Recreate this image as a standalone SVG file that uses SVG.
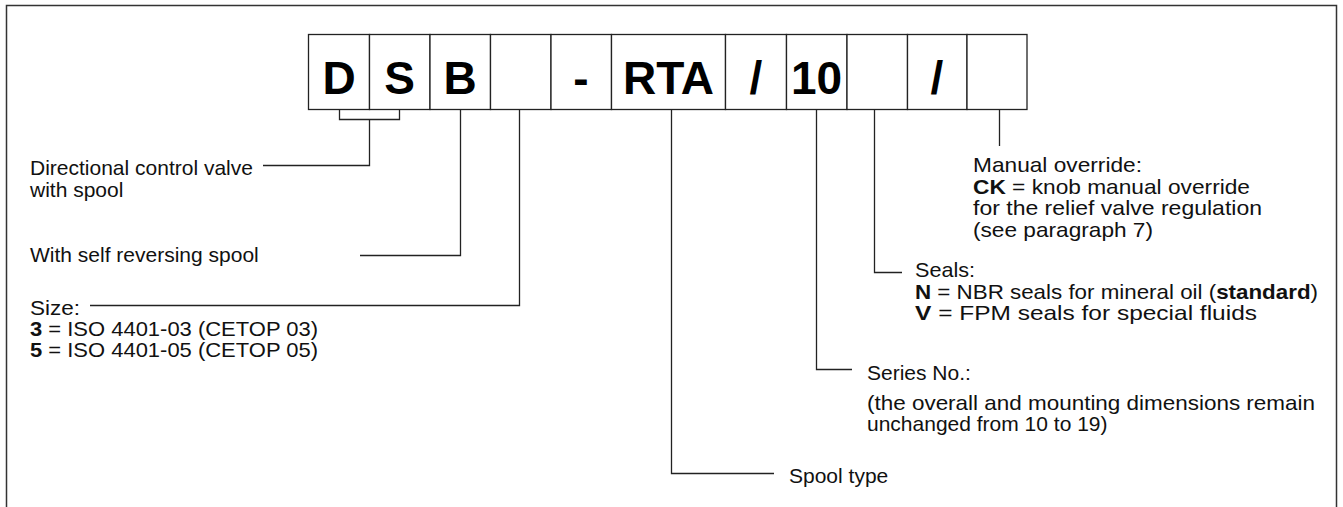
<svg xmlns="http://www.w3.org/2000/svg" width="1343" height="507" viewBox="0 0 1343 507">
<style>
.frame{fill:none;stroke:#333;stroke-width:1.5}
.box{fill:#fff;stroke:#222;stroke-width:1.3}
.big{font-family:"Liberation Sans",Arial,sans-serif;font-weight:bold;font-size:46px;fill:#000;text-anchor:middle}
.t{font-family:"Liberation Sans",Arial,sans-serif;font-size:21px;fill:#111}
.b{font-weight:bold}
.c{fill:none;stroke:#222;stroke-width:1.3}
</style>
<rect width="1343" height="507" fill="#fff"/>
<path class="frame" d="M6.5,512 V5.5 H1336.5 V512"/>
<g id="code">
<g id="box-D"><rect class="box" x="308.5" y="34.5" width="61" height="75"/><text class="big" x="339" y="93.5">D</text></g>
<g id="box-S"><rect class="box" x="369.5" y="34.5" width="60.5" height="75"/><text class="big" x="399.5" y="93.5">S</text></g>
<g id="box-B"><rect class="box" x="430" y="34.5" width="60.5" height="75"/><text class="big" x="460" y="93.5">B</text></g>
<g id="box-size"><rect class="box" x="490.5" y="34.5" width="60.5" height="75"/></g>
<g id="box-dash"><rect class="box" x="551" y="34.5" width="60.5" height="75"/><text class="big" x="581" y="93.5">-</text></g>
<g id="box-RTA"><rect class="box" x="611.5" y="34.5" width="114" height="75"/><text class="big" x="668.5" y="93.5">RTA</text></g>
<g id="box-slash1"><rect class="box" x="725.5" y="34.5" width="61" height="75"/><text class="big" x="756" y="93.5">/</text></g>
<g id="box-10"><rect class="box" x="786.5" y="34.5" width="60.5" height="75"/><text class="big" x="816.5" y="93.5">10</text></g>
<g id="box-seals"><rect class="box" x="847" y="34.5" width="60.5" height="75"/></g>
<g id="box-slash2"><rect class="box" x="907.5" y="34.5" width="59.5" height="75"/><text class="big" x="937" y="93.5">/</text></g>
<g id="box-override"><rect class="box" x="967" y="34.5" width="60" height="75"/></g>
</g>
<g id="connectors">
<path class="c" d="M339.5,109.5 V119.5 H399.5 V109.5"/>
<path class="c" d="M369.5,119.5 V165.5 H263"/>
<path class="c" d="M460.5,109.5 V255.5 H360"/>
<path class="c" d="M519.5,109.5 V305.5 H90"/>
<path class="c" d="M671.5,109.5 V473.5 H774"/>
<path class="c" d="M816.5,109.5 V369.5 H852"/>
<path class="c" d="M874.5,109.5 V272.5 H902"/>
<path class="c" d="M999.5,109.5 V146"/>
</g>
<g id="label-dcv"><text class="t" x="30" y="175">Directional control valve</text><text class="t" x="30" y="197">with spool</text></g>
<g id="label-self"><text class="t" x="30" y="262">With self reversing spool</text></g>
<g id="label-size"><text class="t" x="30" y="314.5" textLength="50" lengthAdjust="spacingAndGlyphs">Size:</text><text class="t" x="30" y="335.5" textLength="288" lengthAdjust="spacingAndGlyphs"><tspan class="b">3</tspan> = ISO 4401-03 (CETOP 03)</text><text class="t" x="30" y="357" textLength="288" lengthAdjust="spacingAndGlyphs"><tspan class="b">5</tspan> = ISO 4401-05 (CETOP 05)</text></g>
<g id="label-override"><text class="t" x="973" y="172" textLength="169" lengthAdjust="spacingAndGlyphs">Manual override:</text><text class="t" x="973" y="193.5" textLength="277" lengthAdjust="spacingAndGlyphs"><tspan class="b">CK</tspan> = knob manual override</text><text class="t" x="973" y="215" textLength="289" lengthAdjust="spacingAndGlyphs">for the relief valve regulation</text><text class="t" x="973" y="236.5" textLength="180" lengthAdjust="spacingAndGlyphs">(see paragraph 7)</text></g>
<g id="label-seals"><text class="t" x="915" y="277" textLength="60" lengthAdjust="spacingAndGlyphs">Seals:</text><text class="t" x="915" y="298.5" textLength="403" lengthAdjust="spacingAndGlyphs"><tspan class="b">N</tspan> = NBR seals for mineral oil (<tspan class="b">standard</tspan>)</text><text class="t" x="915" y="320" textLength="342" lengthAdjust="spacingAndGlyphs"><tspan class="b">V</tspan> = FPM seals for special fluids</text></g>
<g id="label-series"><text class="t" x="867" y="380">Series No.:</text><text class="t" x="867" y="410" textLength="448" lengthAdjust="spacingAndGlyphs">(the overall and mounting dimensions remain</text><text class="t" x="867" y="431">unchanged from 10 to 19)</text></g>
<g id="label-spool"><text class="t" x="789" y="483">Spool type</text></g>
</svg>
